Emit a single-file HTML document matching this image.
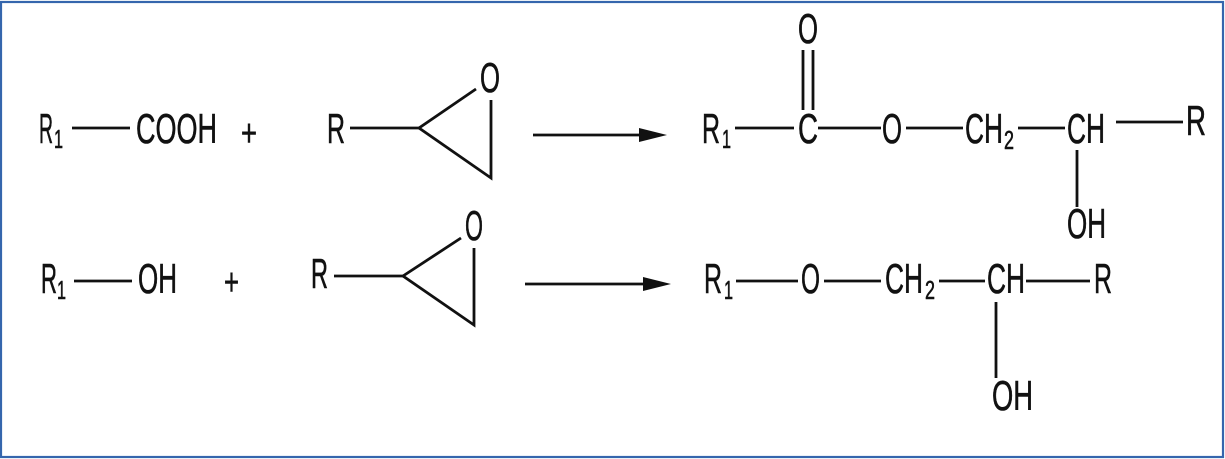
<!DOCTYPE html>
<html><head><meta charset="utf-8"><style>
html,body{margin:0;padding:0;background:#fff}
svg{display:block}
text{font-family:"Liberation Sans",Arial,sans-serif;fill:#111;stroke:#111;stroke-width:0.6}
</style></head><body>
<svg width="1225" height="459" viewBox="0 0 1225 459" xmlns="http://www.w3.org/2000/svg">
<rect x="1" y="2" width="1222" height="455" fill="#fff" stroke="#3566ad" stroke-width="2.2"/>
<g stroke="#111" stroke-width="2.8" fill="none">
<line x1="72" y1="128" x2="130" y2="128"/>
<line x1="350" y1="128" x2="419" y2="128"/>
<polyline points="476,89 419,128 491,178 491,100"/>
<line x1="533" y1="135" x2="645" y2="135"/>
<line x1="735" y1="128" x2="794" y2="128"/>
<line x1="803" y1="50" x2="803" y2="110"/>
<line x1="813" y1="50" x2="813" y2="110"/>
<line x1="818" y1="128" x2="881" y2="128"/>
<line x1="906" y1="128" x2="963" y2="128"/>
<line x1="1018" y1="128" x2="1065" y2="128"/>
<line x1="1116" y1="122" x2="1183" y2="122"/>
<line x1="1077" y1="150" x2="1077" y2="207"/>
<line x1="74" y1="281" x2="132" y2="281"/>
<line x1="334" y1="276" x2="403" y2="276"/>
<polyline points="461,238 403,276 474,325 474,248"/>
<line x1="525" y1="284" x2="650" y2="284"/>
<line x1="736" y1="281" x2="798" y2="281"/>
<line x1="824" y1="281" x2="881" y2="281"/>
<line x1="939" y1="281" x2="985" y2="281"/>
<line x1="1026" y1="281" x2="1090" y2="281"/>
<line x1="996" y1="302" x2="996" y2="378"/>
</g>
<polygon points="639,128 667,135 639,142" fill="#111"/>
<polygon points="643,277 671,284 643,291" fill="#111"/>
<g font-size="42">
<text x="39" y="143" textLength="14" lengthAdjust="spacingAndGlyphs">R</text>
<text x="54" y="148" font-size="26" textLength="9" lengthAdjust="spacingAndGlyphs">1</text>
<text x="136" y="143" textLength="81" lengthAdjust="spacingAndGlyphs">COOH</text>
<text x="241" y="146" font-size="38" textLength="16" lengthAdjust="spacingAndGlyphs">+</text>
<text x="327" y="143" textLength="18" lengthAdjust="spacingAndGlyphs">R</text>
<text x="480" y="92" textLength="20" lengthAdjust="spacingAndGlyphs">O</text>
<text x="702" y="143" textLength="18" lengthAdjust="spacingAndGlyphs">R</text>
<text x="722" y="148" font-size="26" textLength="9" lengthAdjust="spacingAndGlyphs">1</text>
<text x="798" y="43" textLength="20" lengthAdjust="spacingAndGlyphs">O</text>
<text x="798" y="143" textLength="20" lengthAdjust="spacingAndGlyphs">C</text>
<text x="882" y="143" textLength="20" lengthAdjust="spacingAndGlyphs">O</text>
<text x="965" y="143" textLength="38" lengthAdjust="spacingAndGlyphs">CH</text>
<text x="1004" y="149" font-size="26" textLength="10" lengthAdjust="spacingAndGlyphs">2</text>
<text x="1067" y="143" textLength="38" lengthAdjust="spacingAndGlyphs">CH</text>
<text x="1186" y="135" textLength="20" lengthAdjust="spacingAndGlyphs">R</text>
<text x="1067" y="238" textLength="39" lengthAdjust="spacingAndGlyphs">OH</text>
<text x="41" y="293" textLength="16" lengthAdjust="spacingAndGlyphs">R</text>
<text x="57" y="299" font-size="26" textLength="9" lengthAdjust="spacingAndGlyphs">1</text>
<text x="138" y="293" textLength="39" lengthAdjust="spacingAndGlyphs">OH</text>
<text x="224" y="295" font-size="38" textLength="15" lengthAdjust="spacingAndGlyphs">+</text>
<text x="311" y="288" textLength="17" lengthAdjust="spacingAndGlyphs">R</text>
<text x="465" y="240" textLength="18" lengthAdjust="spacingAndGlyphs">O</text>
<text x="704" y="293" textLength="18" lengthAdjust="spacingAndGlyphs">R</text>
<text x="724" y="299" font-size="26" textLength="9" lengthAdjust="spacingAndGlyphs">1</text>
<text x="801" y="293" textLength="19" lengthAdjust="spacingAndGlyphs">O</text>
<text x="885" y="293" textLength="38" lengthAdjust="spacingAndGlyphs">CH</text>
<text x="925" y="299" font-size="26" textLength="10" lengthAdjust="spacingAndGlyphs">2</text>
<text x="987" y="293" textLength="38" lengthAdjust="spacingAndGlyphs">CH</text>
<text x="1094" y="293" textLength="18" lengthAdjust="spacingAndGlyphs">R</text>
<text x="992" y="410" textLength="41" lengthAdjust="spacingAndGlyphs">OH</text>
</g>
</svg>
</body></html>
